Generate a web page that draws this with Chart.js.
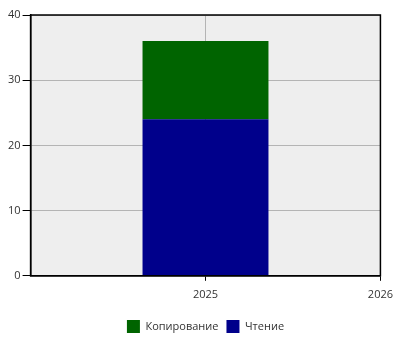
<!DOCTYPE html>
<html><head><meta charset="utf-8">
<script src="https://cdn.jsdelivr.net/npm/chart.js"></script>
<style>html,body{margin:0;padding:0;background:#fff}#w{width:400px;height:350px}</style>
</head><body><div id="w"><canvas id="c"></canvas></div>
<script>
const years = [2025];
const seriesNames = ['Копирование', 'Чтение'];
const copyValues = [12];
const readValues = [24];
const xMin = 2024, xMax = 2026;
const yTicks = [0, 10, 20, 30, 40];

const FONT = {family: "'Open Sans', sans-serif", size: 11};
const frame = {
  id: 'frame',
  beforeDraw(chart) {
    const {ctx, chartArea: a} = chart;
    ctx.save(); ctx.fillStyle = '#eeeeee';
    ctx.fillRect(a.left, a.top, a.right - a.left, a.bottom - a.top);
    ctx.restore();
  },
  afterDraw(chart) {
    const {ctx, chartArea: a} = chart;
    ctx.save(); ctx.strokeStyle = '#000'; ctx.lineWidth = 1.5;
    ctx.strokeRect(a.left, a.top, a.right - a.left, a.bottom - a.top);
    ctx.restore();
  }
};
new Chart(document.getElementById('c'), {
  type: 'bar',
  data: {
    datasets: [
      {label: seriesNames[1], data: years.map((y, i) => ({x: y, y: readValues[i]})), backgroundColor: '#00008b'},
      {label: seriesNames[0], data: years.map((y, i) => ({x: y, y: copyValues[i]})), backgroundColor: '#006400'}
    ]
  },
  options: {
    responsive: true, maintainAspectRatio: false, animation: false,
    layout: {padding: {top: 15, right: 11, left: 6, bottom: 7}},
    scales: {
      x: {
        type: 'linear', stacked: true, min: xMin, max: xMax, offset: false,
        afterFit: s => { s.height += 4; },
        ticks: {stepSize: 1, color: '#333', font: FONT, maxRotation: 0, padding: 7,
          callback: v => v === xMin ? '' : String(v)},
        grid: {offset: false,
               color: c => c.tick && c.tick.value === xMin ? 'rgba(0,0,0,0)' : '#b4b4b4',
               tickColor: c => c.tick && c.tick.value === xMin ? 'rgba(0,0,0,0)' : '#000',
               tickLength: 5},
        border: {color: '#000', width: 1.5}
      },
      y: {
        stacked: true, min: 0, max: 40,
        afterBuildTicks: s => { s.ticks = yTicks.map(v => ({value: v})); },
        ticks: {color: '#333', font: FONT, padding: 2},
        grid: {color: '#b4b4b4', tickColor: '#000', tickLength: 8},
        border: {color: '#000', width: 1.5}
      }
    },
    plugins: {
      legend: {
        position: 'bottom', reverse: true, fullSize: false,
        labels: {boxWidth: 13, boxHeight: 13, color: '#333', font: FONT, padding: 8}
      },
      tooltip: {enabled: false}
    }
  },
  plugins: [frame]
});
</script></body></html>
